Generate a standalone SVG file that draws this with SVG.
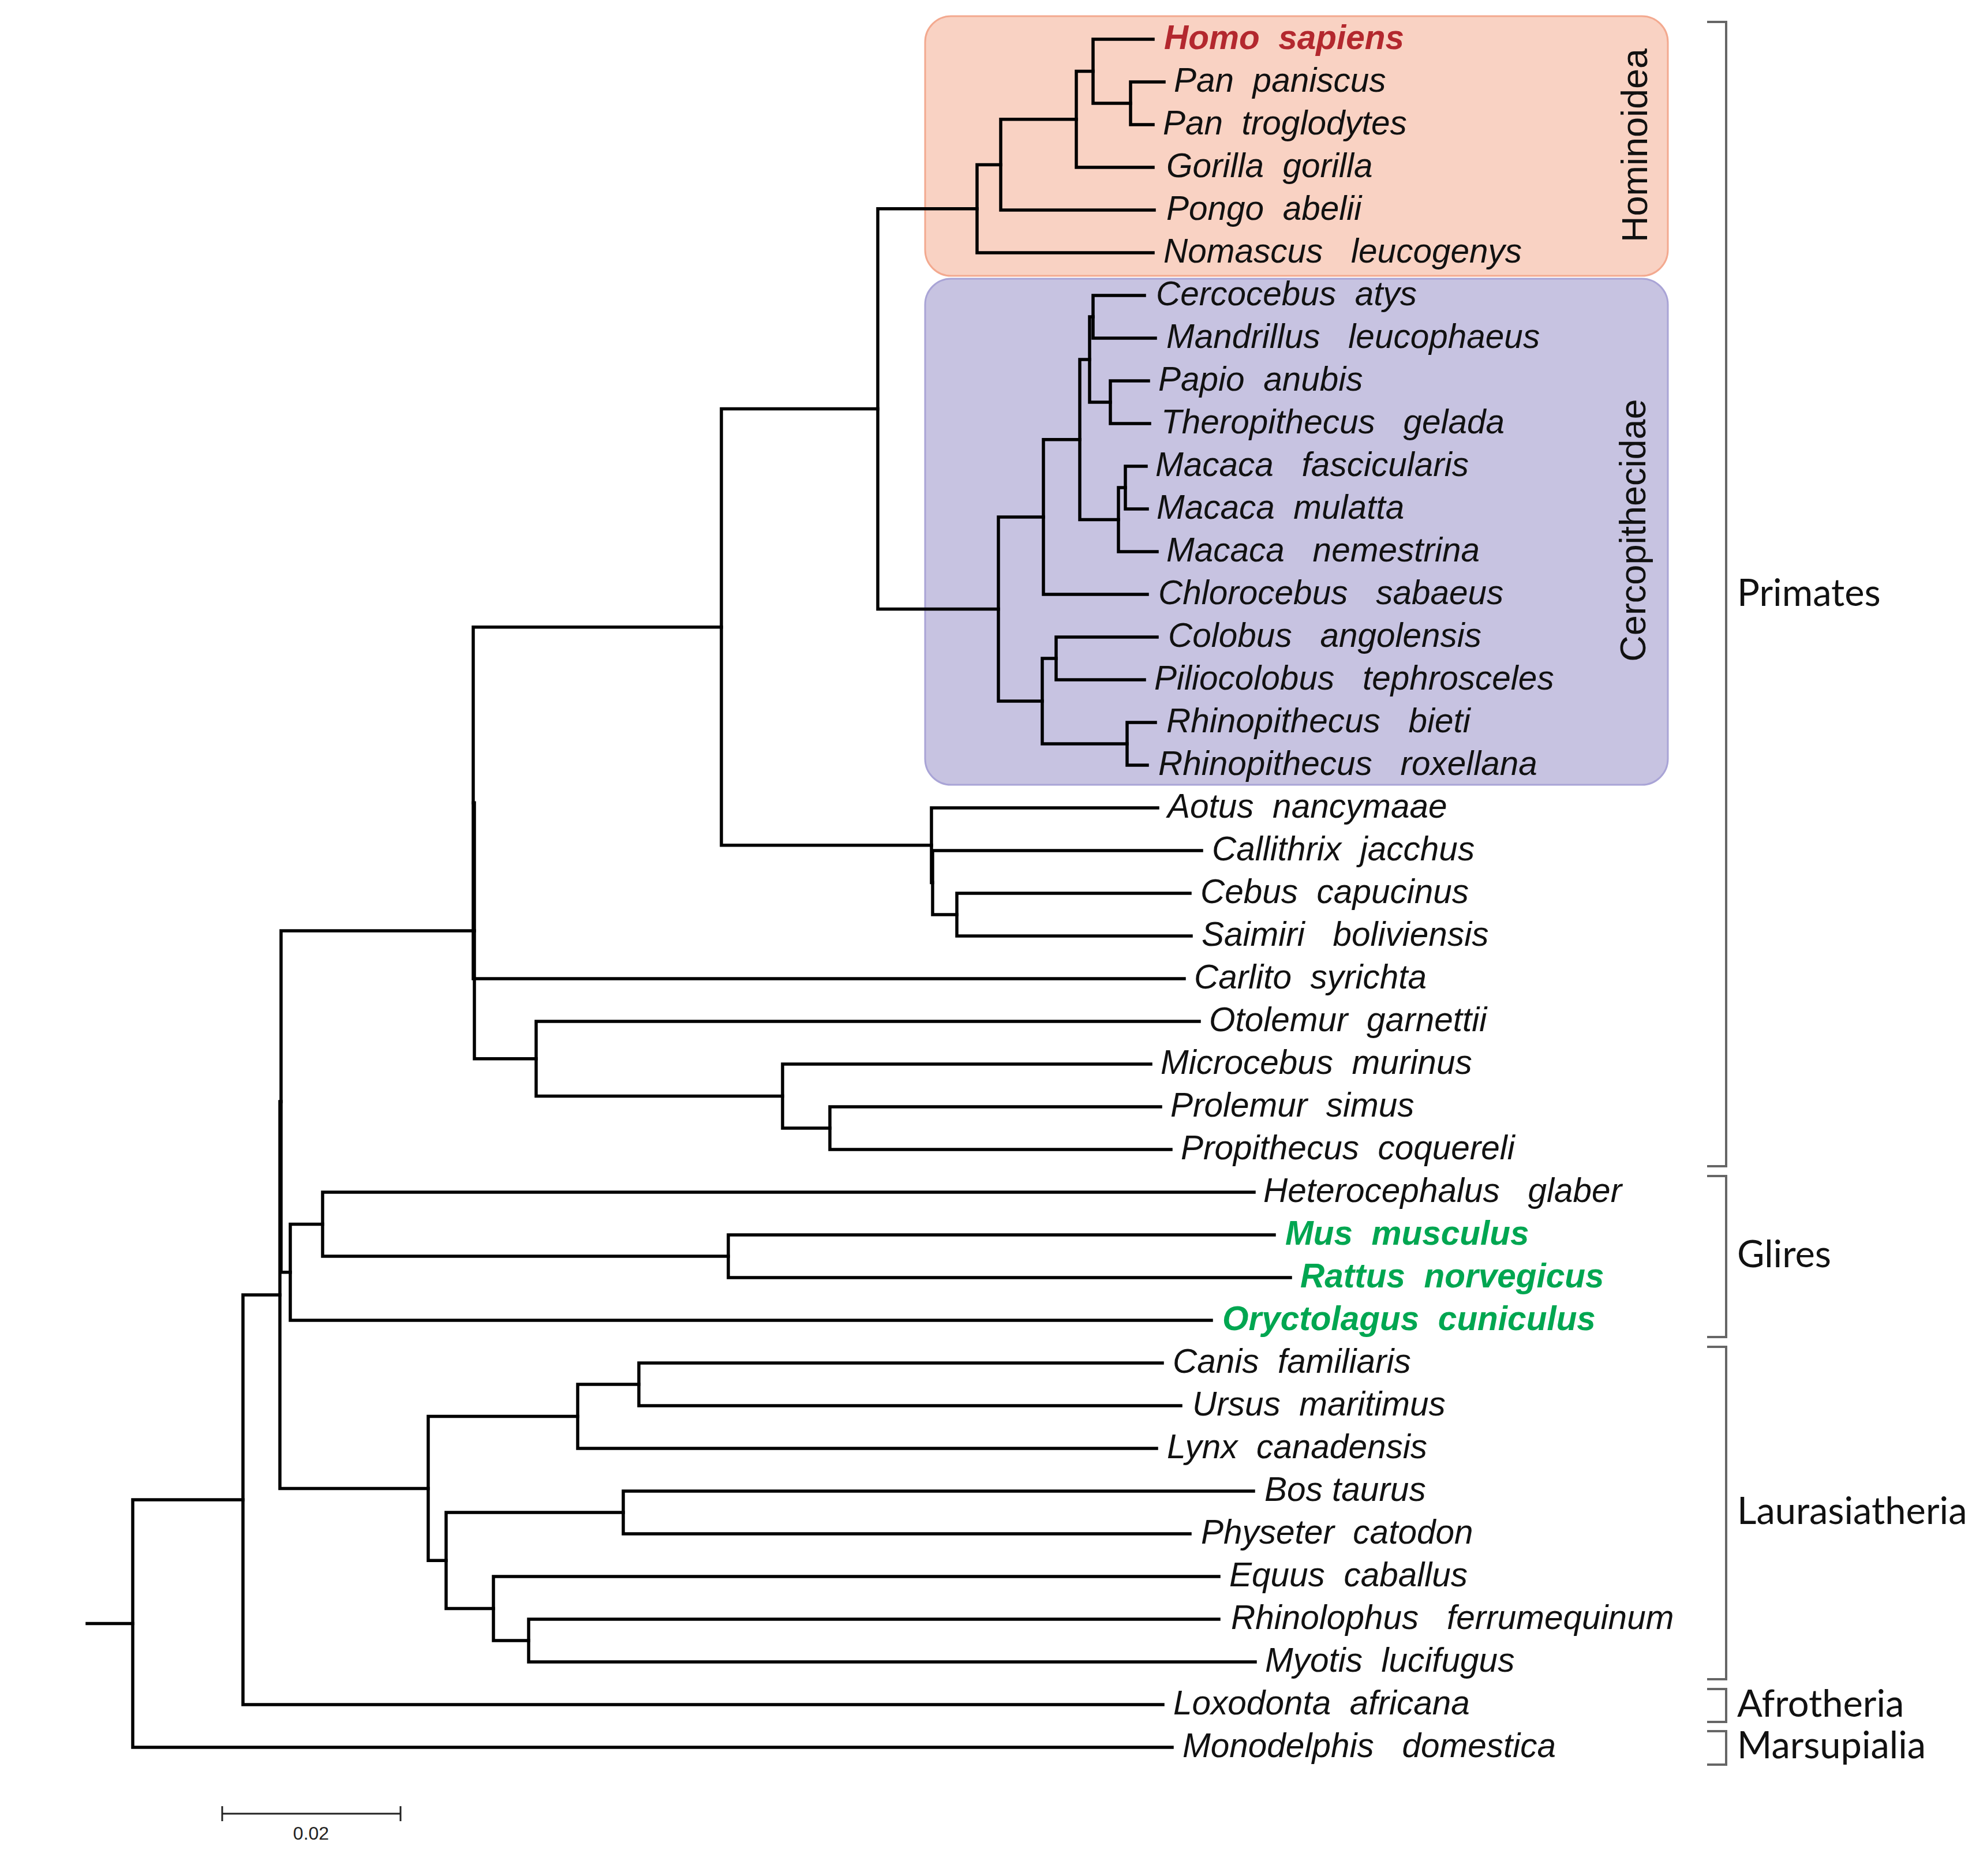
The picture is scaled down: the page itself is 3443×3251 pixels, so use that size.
<svg xmlns="http://www.w3.org/2000/svg" width="3443" height="3251" viewBox="0 0 3443 3251" xml:space="preserve">
<style>
.sp{font-family:"Liberation Sans",Arial,sans-serif;font-style:italic;font-size:58.5px;fill:#111;white-space:pre}
.hl{font-weight:bold}
.red{fill:#b3282e}
.grn{fill:#00a651}
.br{fill:none;stroke:#666;stroke-width:4}
.cl{font-family:Lato,"Liberation Sans",sans-serif;font-size:65px;fill:#111}
.fam{font-family:"Liberation Sans",Arial,sans-serif;font-size:63px;fill:#111}
.tree path{fill:none;stroke:#000;stroke-width:5.5;stroke-linecap:square;stroke-linejoin:miter}
</style>
<rect width="3443" height="3251" fill="#fff"/>
<g id="box-hominoidea">
<rect x="1603" y="28" width="1287" height="450" rx="45" fill="#f9d2c3" stroke="#f3a98f" stroke-width="3"/>
<text class="fam" transform="translate(2854,252) rotate(-90)" text-anchor="middle">Hominoidea</text>
</g>
<g id="box-cercopithecidae">
<rect x="1603" y="483" width="1287" height="877" rx="45" fill="#c7c3e1" stroke="#a9a4d6" stroke-width="3"/>
<text class="fam" transform="translate(2851,919) rotate(-90)" text-anchor="middle">Cercopithecidae</text>
</g>
<g id="connectors" class="tree">
<path d="M2017 142H1959V216H1998"/>
<path d="M1998 68H1894V179H1959"/>
<path d="M1894 123.5H1865V290H1998"/>
<path d="M1865 206.75H1734V364H2000"/>
<path d="M1734 285.4H1693V438H1998"/>
<path d="M1983 512H1894V586H2002"/>
<path d="M1990 660H1924V734H1992"/>
<path d="M1894 549H1888V697H1924"/>
<path d="M1986 808H1950V882H1988"/>
<path d="M1950 845H1938V956H2005"/>
<path d="M1888 623H1871V900.5H1938"/>
<path d="M1871 761.75H1808V1030H1988"/>
<path d="M2005 1104H1830V1178H1983"/>
<path d="M2002 1252H1953V1326H1988"/>
<path d="M1830 1141H1806V1289H1953"/>
<path d="M1808 895.9H1730V1215H1806"/>
<path d="M1693 361.7H1521V1055.4H1730"/>
<path d="M2062 1548H1658V1622H2064"/>
<path d="M2082 1474H1616V1585H1658"/>
<path d="M2006 1400H1614V1529.5H1616"/>
<path d="M1521 708.6H1250V1464.75H1614"/>
<path d="M1250 1086.7H820V1696H2052"/>
<path d="M2011 1918H1438V1992H2029"/>
<path d="M1994 1844H1356V1955H1438"/>
<path d="M2078 1770H929V1899.5H1356"/>
<path d="M820 1391.3H822V1834.75H929"/>
<path d="M2208 2140H1262V2214H2236"/>
<path d="M2173 2066H559V2177H1262"/>
<path d="M559 2121.5H503V2288H2099"/>
<path d="M822 1613H487V2204.75H503"/>
<path d="M487 1908.9H485V2579.4H742"/>
<path d="M2014 2362H1107V2436H2046"/>
<path d="M1107 2399H1001V2510H2004"/>
<path d="M2172 2584H1080V2658H2062"/>
<path d="M2112 2806H916V2880H2175"/>
<path d="M2112 2732H855V2843H916"/>
<path d="M1080 2621H773V2787.5H855"/>
<path d="M1001 2454.5H742V2704.25H773"/>
<path d="M485 2244.1H421V2954H2015"/>
<path d="M421 2599H230V3028H2031"/>
<path d="M151 2813.5H230"/>
</g>
<g id="leaves">
<g id="n0"><text class="sp hl red" x="2017" y="85">Homo  sapiens</text></g>
<g id="n1"><text class="sp" x="2034" y="159">Pan  paniscus</text></g>
<g id="n2"><text class="sp" x="2015" y="233">Pan  troglodytes</text></g>
<g id="n3"><text class="sp" x="2021" y="307">Gorilla  gorilla</text></g>
<g id="n4"><text class="sp" x="2021" y="381">Pongo  abelii</text></g>
<g id="n5"><text class="sp" x="2016" y="455">Nomascus   leucogenys</text></g>
<g id="n6"><text class="sp" x="2003" y="529">Cercocebus  atys</text></g>
<g id="n7"><text class="sp" x="2021" y="603">Mandrillus   leucophaeus</text></g>
<g id="n8"><text class="sp" x="2007" y="677">Papio  anubis</text></g>
<g id="n9"><text class="sp" x="2012" y="751">Theropithecus   gelada</text></g>
<g id="n10"><text class="sp" x="2002" y="825">Macaca   fascicularis</text></g>
<g id="n11"><text class="sp" x="2004" y="899">Macaca  mulatta</text></g>
<g id="n12"><text class="sp" x="2021" y="973">Macaca   nemestrina</text></g>
<g id="n13"><text class="sp" x="2007" y="1047">Chlorocebus   sabaeus</text></g>
<g id="n14"><text class="sp" x="2024" y="1121">Colobus   angolensis</text></g>
<g id="n15"><text class="sp" x="2000" y="1195">Piliocolobus   tephrosceles</text></g>
<g id="n16"><text class="sp" x="2021" y="1269">Rhinopithecus   bieti</text></g>
<g id="n17"><text class="sp" x="2007" y="1343">Rhinopithecus   roxellana</text></g>
<g id="n18"><text class="sp" x="2023" y="1417">Aotus  nancymaae</text></g>
<g id="n19"><text class="sp" x="2100" y="1491">Callithrix  jacchus</text></g>
<g id="n20"><text class="sp" x="2080" y="1565">Cebus  capucinus</text></g>
<g id="n21"><text class="sp" x="2082" y="1639">Saimiri   boliviensis</text></g>
<g id="n22"><text class="sp" x="2069" y="1713">Carlito  syrichta</text></g>
<g id="n23"><text class="sp" x="2095" y="1787">Otolemur  garnettii</text></g>
<g id="n24"><text class="sp" x="2011" y="1861">Microcebus  murinus</text></g>
<g id="n25"><text class="sp" x="2028" y="1935">Prolemur  simus</text></g>
<g id="n26"><text class="sp" x="2046" y="2009">Propithecus  coquereli</text></g>
<g id="n27"><text class="sp" x="2189" y="2083">Heterocephalus   glaber</text></g>
<g id="n28"><text class="sp hl grn" x="2227" y="2157">Mus  musculus</text></g>
<g id="n29"><text class="sp hl grn" x="2253" y="2231">Rattus  norvegicus</text></g>
<g id="n30"><text class="sp hl grn" x="2118" y="2305">Oryctolagus  cuniculus</text></g>
<g id="n31"><text class="sp" x="2032" y="2379">Canis  familiaris</text></g>
<g id="n32"><text class="sp" x="2066" y="2453">Ursus  maritimus</text></g>
<g id="n33"><text class="sp" x="2022" y="2527">Lynx  canadensis</text></g>
<g id="n34"><text class="sp" x="2191" y="2601">Bos taurus</text></g>
<g id="n35"><text class="sp" x="2081" y="2675">Physeter  catodon</text></g>
<g id="n36"><text class="sp" x="2130" y="2749">Equus  caballus</text></g>
<g id="n37"><text class="sp" x="2133" y="2823">Rhinolophus   ferrumequinum</text></g>
<g id="n38"><text class="sp" x="2192" y="2897">Myotis  lucifugus</text></g>
<g id="n39"><text class="sp" x="2033" y="2971">Loxodonta  africana</text></g>
<g id="n40"><text class="sp" x="2049" y="3045">Monodelphis   domestica</text></g>
</g>
<g id="clades">
<g id="c-primates"><path class="br" d="M2958 38H2991V2021H2958"/><text class="cl" x="3010" y="1050">Primates</text></g>
<g id="c-glires"><path class="br" d="M2958 2038H2991V2317H2958"/><text class="cl" x="3010" y="2196">Glires</text></g>
<g id="c-laurasiatheria"><path class="br" d="M2958 2334H2991V2910H2958"/><text class="cl" x="3010" y="2641">Laurasiatheria</text></g>
<g id="c-afrotheria"><path class="br" d="M2958 2927H2991V2984H2958"/><text class="cl" x="3010" y="2975">Afrotheria</text></g>
<g id="c-marsupialia"><path class="br" d="M2958 3000H2991V3058H2958"/><text class="cl" x="3010" y="3047">Marsupialia</text></g>
</g>
<g id="scale-bar">
<path d="M385 3143H694M385 3130V3156M694 3130V3156" fill="none" stroke="#222" stroke-width="3"/>
<text x="539" y="3188" text-anchor="middle" font-family="Liberation Sans, Arial, sans-serif" font-size="32" fill="#222">0.02</text>
</g>
</svg>
